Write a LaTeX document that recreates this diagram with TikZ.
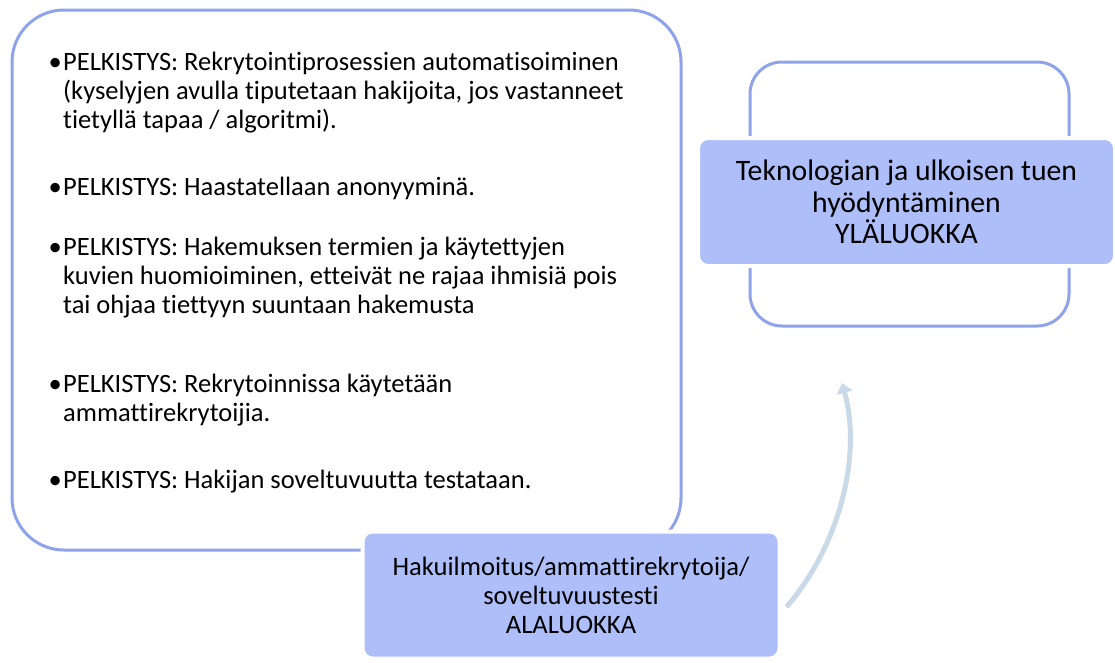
\documentclass[tikz,border=0pt]{standalone}
\usepackage{fontspec}
\setmainfont{Carlito}[Ligatures=NoCommon]
\usetikzlibrary{arrows.meta,calc}
\definecolor{rimblue}{HTML}{8FA3EB}
\definecolor{fillblue}{HTML}{ADBEF9}
\definecolor{arrowgrey}{HTML}{C9D9E7}
\tikzset{
  frame/.style={draw=rimblue, line width=3pt},
  label box/.style={fill=fillblue, draw=white, line width=4pt, rounded corners=10pt,
    align=center, inner sep=0pt},
  item/.style={anchor=base west, inner sep=0pt,
    font=\fontsize{26.5}{29}\selectfont},
  link/.style={draw=arrowgrey, line width=5pt,
    -{Triangle[width=16pt,length=10pt]}},
}
% one bullet paragraph, aligned on its first baseline, bullet hanging left
\newcommand{\itm}[1]{\parbox[t]{610pt}{\raggedright\leavevmode\llap{•\hspace{1.5pt}}#1}}
\begin{document}
\begin{tikzpicture}[x=1pt,y=-1pt]
\useasboundingbox (0,0) rectangle (1115,662);

% outline frames
\draw[frame, rounded corners=52pt] (12,10) rectangle (681,550);
\draw[frame, rounded corners=32pt] (750,62) rectangle (1069,326);

% bullet list inside the large frame
\node[item] (b1) at (63,70) {\itm{PELKISTYS: Rekrytointiprosessien automatisoiminen\\(kyselyjen avulla tiputetaan hakijoita, jos vastanneet\\tietyllä tapaa / algoritmi).}};
\node[item] (b2) at (63,195) {\itm{PELKISTYS: Haastatellaan anonyyminä.}};
\node[item] (b3) at (63,255) {\itm{PELKISTYS: Hakemuksen termien ja käytettyjen\\kuvien huomioiminen, etteivät ne rajaa ihmisiä pois\\tai ohjaa tiettyyn suuntaan hakemusta}};
\node[item] (b4) at (63,392) {\itm{PELKISTYS: Rekrytoinnissa käytetään\\ammattirekrytoijia.}};
\node[item] (b5) at (63,488) {\itm{PELKISTYS: Hakijan soveltuvuutta testataan.}};

% category boxes
\node[label box, minimum width=417pt, minimum height=128pt,
  font=\fontsize{29.7}{31.5}\selectfont] (upper) at (906.5,202)
  {Teknologian ja ulkoisen tuen\\hyödyntäminen\\YLÄLUOKKA};
\node[label box, minimum width=417pt, minimum height=127pt,
  font=\fontsize{26.6}{29}\selectfont] (lower) at (571,595)
  {Hakuilmoitus/ammattirekrytoija/\\soveltuvuustesti\\ALALUOKKA};

% curved arrow from the lower to the upper category
\coordinate (a0) at ($(lower.east)+(5,12)$);
\coordinate (a1) at (842,383);
\path[link] (a0) .. controls (840,545) and (862,455) .. (a1);
\end{tikzpicture}
\end{document}
